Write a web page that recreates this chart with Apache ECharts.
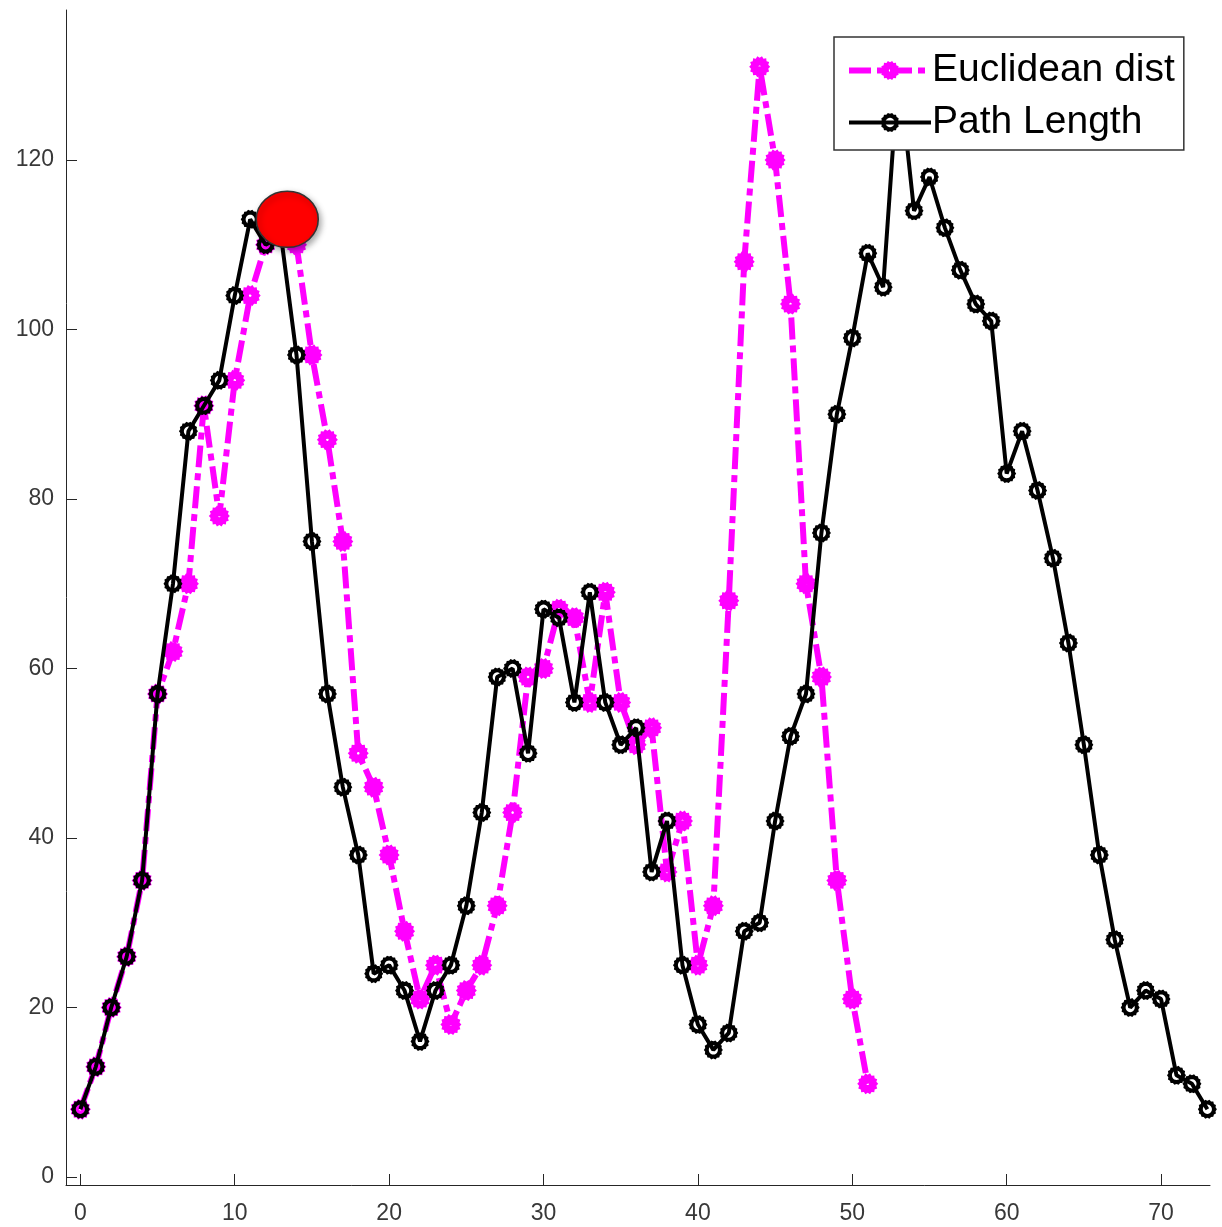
<!DOCTYPE html>
<html>
<head>
<meta charset="utf-8">
<script src="https://cdn.jsdelivr.net/npm/echarts@6/dist/echarts.min.js"></script>
<style>
  html, body { margin: 0; padding: 0; background: #fff; }
  #chart { width: 1222px; height: 1227px; }
</style>
</head>
<body>
<div id="chart"></div>
<script>
// Euclidean distance per step (steps 0..51)
const euclideanDist = [
  8, 13, 20, 26, 35, 57, 62, 70, 91, 78,
  94, 104, 110, 112, 110, 97, 87, 75, 50, 46,
  38, 29, 21, 25, 18, 22, 25, 32, 43, 59,
  60, 67, 66, 56, 69, 56, 51, 53, 36, 42,
  25, 32, 68, 108, 131, 120, 103, 70, 59, 35,
  21, 11
];
// Path length per step (steps 0..73)
const pathLength = [
  8, 13, 20, 26, 35, 57, 70, 88, 91, 94,
  104, 113, 110, 111, 97, 75, 57, 46, 38, 24,
  25, 22, 16, 22, 25, 32, 43, 59, 60, 50,
  67, 66, 56, 69, 56, 51, 53, 36, 42, 25,
  18, 15, 17, 29, 30, 42, 52, 57, 76, 90,
  99, 109, 105, 131, 114, 118, 112, 107, 103, 101,
  83, 88, 81, 73, 63, 51, 38, 28, 20, 22,
  21, 12, 11, 8
];
// Highlighted point (step, value)
const highlightPoint = [13.4, 113];

const xTickValues = [0, 10, 20, 30, 40, 50, 60, 70];
const yTickValues = [0, 20, 40, 60, 80, 100, 120];
const seriesNames = ['Euclidean dist', 'Path Length'];

// Toothed ring marker; outer contour clockwise, hole counter-clockwise
function gearPath(teeth, rOut, rRoot, rHole) {
  const c = 50, pts = [];
  const n = teeth * 2;
  for (let i = 0; i < n; i++) {
    const a = (i / n) * Math.PI * 2;
    const r = (i % 2 === 0) ? rOut : rRoot;
    pts.push([c + r * Math.cos(a), c + r * Math.sin(a)]);
  }
  let d = 'M' + pts.map(p => p[0].toFixed(2) + ' ' + p[1].toFixed(2)).join(' L') + ' Z';
  if (rHole > 0) {
    const m = 24, hp = [];
    for (let i = 0; i < m; i++) {
      const a = -(i / m) * Math.PI * 2;
      hp.push([c + rHole * Math.cos(a), c + rHole * Math.sin(a)]);
    }
    d += ' M' + hp.map(p => p[0].toFixed(2) + ' ' + p[1].toFixed(2)).join(' L') + ' Z';
  }
  return 'path://' + d;
}

const blackMarker = gearPath(14, 50, 44, 24);
const magentaMarker = gearPath(14, 50, 42, 6);

const toPairs = arr => arr.map((v, i) => [i, v]);

const axisFont = { fontFamily: 'Liberation Sans, Arial, sans-serif', fontSize: 23, color: '#383838' };

const chart = echarts.init(document.getElementById('chart'));
chart.setOption({
  animation: false,
  backgroundColor: '#ffffff',
  grid: { left: 66, right: 12, top: 10, bottom: 42, containLabel: false },
  xAxis: {
    type: 'value',
    min: -0.93,
    max: 73.17,
    axisLine: { show: true, onZero: false, lineStyle: { color: '#262626', width: 1 } },
    axisTick: { show: true, inside: true, length: 11, customValues: xTickValues, lineStyle: { color: '#262626' } },
    axisLabel: Object.assign({ show: true, customValues: xTickValues, margin: 17 }, axisFont),
    splitLine: { show: false }
  },
  yAxis: {
    type: 'value',
    min: -0.94,
    max: 137.7,
    axisLine: { show: true, onZero: false, lineStyle: { color: '#262626', width: 1 } },
    axisTick: { show: true, inside: true, length: 11, customValues: yTickValues, lineStyle: { color: '#262626' } },
    axisLabel: Object.assign({ show: true, customValues: yTickValues, margin: 12 }, axisFont),
    splitLine: { show: false }
  },
  legend: {
    data: [
      { name: seriesNames[0], lineStyle: { width: 6 } },
      { name: seriesNames[1], lineStyle: { width: 4 } }
    ],
    orient: 'vertical',
    left: 834,
    top: 37,
    backgroundColor: '#ffffff',
    borderColor: '#333333',
    borderWidth: 1.5,
    borderRadius: 0,
    padding: [14, 9, 8, 12],
    itemGap: 13,
    itemWidth: 82,
    itemHeight: 24,
    textStyle: { fontFamily: 'Liberation Sans, Arial, sans-serif', fontSize: 39, color: '#000000', padding: [0, 0, 0, -4] }
  },
  series: [
    {
      name: seriesNames[0],
      type: 'line',
      data: toPairs(euclideanDist),
      symbol: magentaMarker,
      symbolSize: 21,
      showAllSymbol: true,
      lineStyle: { color: '#ff00ff', width: 6, type: [22, 6, 7, 6] },
      itemStyle: { color: '#ff00ff', borderWidth: 0 },
      z: 2
    },
    {
      name: seriesNames[1],
      type: 'line',
      data: toPairs(pathLength),
      symbol: blackMarker,
      symbolSize: 19,
      showAllSymbol: true,
      lineStyle: { color: '#000000', width: 4 },
      itemStyle: { color: '#000000', borderWidth: 0 },
      z: 3
    },
    {
      name: 'highlight',
      type: 'scatter',
      data: [highlightPoint],
      symbol: 'circle',
      symbolSize: [62, 56],
      itemStyle: {
        color: '#ff0000',
        opacity: 1,
        borderColor: '#333333',
        borderWidth: 1.5,
        shadowColor: 'rgba(0,0,0,0.35)',
        shadowBlur: 6,
        shadowOffsetX: 2,
        shadowOffsetY: 3
      },
      z: 5
    }
  ]
});
</script>
</body>
</html>
